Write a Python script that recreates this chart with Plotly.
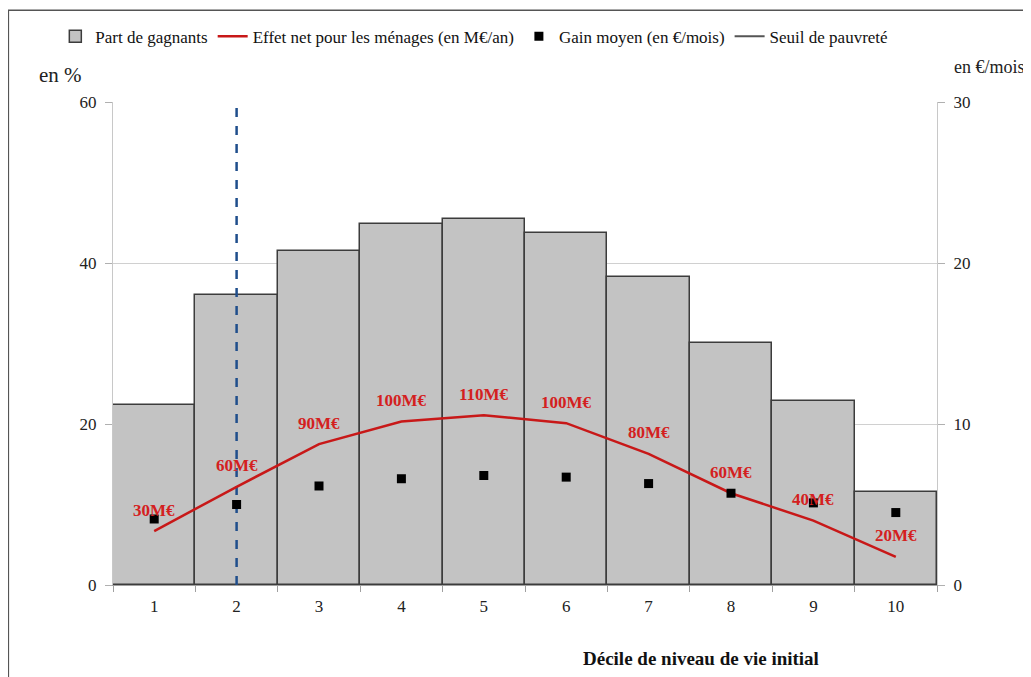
import plotly.graph_objects as go

# données
deciles = [str(i) for i in range(1, 11)]
part_gagnants = [22.4, 36.0, 41.5, 44.8, 45.5, 43.7, 38.3, 30.1, 22.9, 11.6]  # en %
effet_net = [6.7, 12.2, 17.5, 20.3, 21.1, 20.1, 16.3, 11.4, 8.0, 3.5]  # position sur l'axe en %
effet_net_labels = ['30M€', '60M€', '90M€', '100M€', '110M€', '100M€', '80M€', '60M€', '40M€', '20M€']
gain_moyen = [4.1, 5.0, 6.15, 6.6, 6.8, 6.7, 6.3, 5.7, 5.1, 4.5]  # en €/mois
seuil_decile = '2'

FONT = 'Liberation Serif'
ROUGE = '#D42020'

fig = go.Figure()

fig.add_trace(go.Bar(x=deciles, y=part_gagnants, name='Part de gagnants', width=1,
                     marker=dict(color='#C3C3C3', line=dict(color='#3C3C3C', width=1.5))))

fig.add_trace(go.Scatter(x=[seuil_decile, seuil_decile], y=[0, 60], mode='lines', showlegend=False,
                         line=dict(color='#1F4E8C', width=2.5, dash='dash'), hoverinfo='skip'))

fig.add_trace(go.Scatter(x=deciles, y=effet_net, mode='lines', name='Effet net pour les ménages (en M€/an)',
                         line=dict(color='#C81818', width=2.5)))

fig.add_trace(go.Scatter(x=deciles, y=gain_moyen, mode='markers', name='Gain moyen (en €/mois)', yaxis='y2',
                         marker=dict(symbol='square', size=9, color='black')))

# entrée de légende seule pour le seuil
fig.add_trace(go.Scatter(x=[None], y=[None], mode='lines', name='Seuil de pauvreté',
                         line=dict(color='#555555', width=2)))

# étiquettes rouges (axe catégoriel : position par indice)
for i, (v, lab) in enumerate(zip(effet_net, effet_net_labels)):
    fig.add_annotation(x=i, y=v, text=f'<b>{lab}</b>', showarrow=False, yshift=21,
                       font=dict(family=FONT, size=17, color=ROUGE))

fig.add_annotation(x=-0.064, y=1.056, xref='paper', yref='paper', text='en %', showarrow=False,
                   xanchor='center', yanchor='middle', font=dict(family=FONT, size=21, color='#222'))
fig.add_annotation(x=1.064, y=1.072, xref='paper', yref='paper', text='en €/mois', showarrow=False,
                   xanchor='center', yanchor='middle', font=dict(family=FONT, size=18, color='#222'))
fig.add_annotation(x=0.713, y=-0.152, xref='paper', yref='paper', text='<b>Décile de niveau de vie initial</b>',
                   showarrow=False, xanchor='center', yanchor='middle', font=dict(family=FONT, size=19, color='#111'))

# cadre de la zone graphique
fig.add_shape(type='rect', xref='paper', yref='paper', x0=-0.127, x1=1.2, y0=-0.3, y1=1.19,
              line=dict(color='#555555', width=1.5))

tick_font = dict(family=FONT, size=17, color='#222')

# la page ajoute 8 px de marge au body : on décale les marges en conséquence
fig.update_layout(
    width=1031, height=677,
    margin=dict(l=105, r=102, t=94, b=100, autoexpand=False),
    paper_bgcolor='white', plot_bgcolor='white',
    font=dict(family=FONT, size=15, color='#222'),
    bargap=0,
    showlegend=True,
    legend=dict(orientation='h', x=-0.07, y=1.135, xanchor='left', yanchor='middle',
                font=dict(family=FONT, size=17, color='#111'), itemwidth=30, tracegroupgap=0),
    xaxis=dict(type='category', range=[-0.5, 9.5], showgrid=False, showline=True, linecolor='#A0A0A0',
               ticks='outside', tickson='boundaries', ticklen=6, tickcolor='#A0A0A0', zeroline=False,
               tickfont=tick_font, ticklabelstandoff=6),
    yaxis=dict(range=[0, 60], dtick=20, showgrid=True, gridcolor='#D0D0D0', showline=True,
               linecolor='#C8C8C8', ticks='outside', ticklen=7, tickcolor='#B0B0B0', zeroline=False,
               tickfont=tick_font, ticklabelstandoff=5),
    yaxis2=dict(range=[0, 30], dtick=10, overlaying='y', side='right', showgrid=False, showline=True,
                linecolor='#C8C8C8', ticks='outside', ticklen=7, tickcolor='#B0B0B0', zeroline=False,
                tickfont=tick_font, ticklabelstandoff=5),
)

fig.write_html('out.html')
